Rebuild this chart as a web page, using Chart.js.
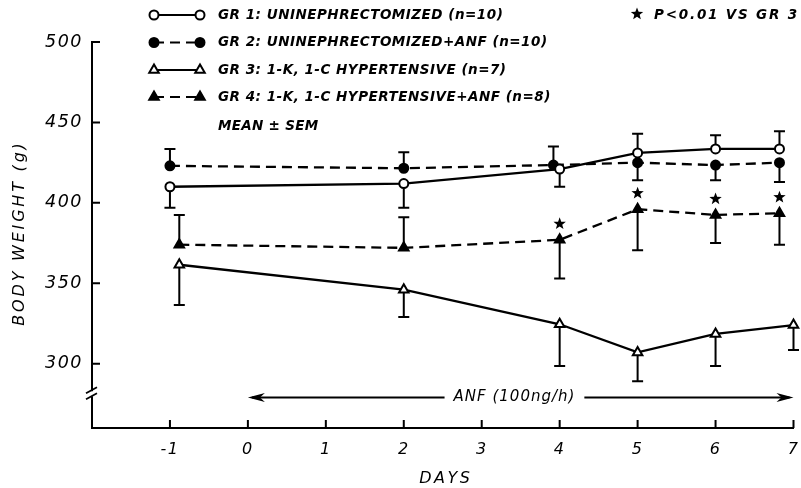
<!DOCTYPE html>
<html><head><meta charset="utf-8">
<script src="https://cdn.jsdelivr.net/npm/chart.js@4.4.0/dist/chart.umd.min.js"></script>
<style>html,body{margin:0;padding:0;background:#fff}#wrap{width:801px;height:488px;position:relative}</style>
</head><body><div id="wrap"><canvas id="c"></canvas></div>
<script>
// ---- data ----
const dayTicks = [-1, 0, 1, 2, 3, 4, 5, 6, 7];
const weightTicks = [300, 350, 400, 450, 500];

const g1Days = [-1, 2, 4, 5, 6, 6.82];
const g1Mean = [410, 412, 421, 431, 433.5, 433.5];
const g1Sem  = [13, 15, 11, 12, 8.5, 11];
const g1Dir  = [-1, -1, -1, 1, 1, 1];

const g2Days = [-1, 2, 3.92, 5, 6, 6.82];
const g2Mean = [423, 421.5, 423.5, 425, 423.5, 425];
const g2Sem  = [10.5, 10, 11.5, 11, 9.5, 12];
const g2Dir  = [1, 1, 1, -1, -1, -1];

const g3Days = [-0.88, 2, 4, 5, 6, 7];
const g3Mean = [361.5, 346, 324.5, 307, 318.5, 324];
const g3Sem  = [25, 17, 26, 18, 20, 15.5];
const g3Dir  = [-1, -1, -1, -1, -1, -1];

const g4Days = [-0.88, 2, 4, 5, 6, 6.82];
const g4Mean = [374, 372, 377, 396, 392.5, 393.5];
const g4Sem  = [18.5, 19, 24, 25.5, 17.5, 19.5];
const g4Dir  = [1, 1, -1, -1, -1, -1];
const g4Significant = [false, false, true, true, true, true];

const groupLabels = [
  'GR 1: UNINEPHRECTOMIZED (n=10)',
  'GR 2: UNINEPHRECTOMIZED+ANF (n=10)',
  'GR 3: 1-K, 1-C HYPERTENSIVE (n=7)',
  'GR 4: 1-K, 1-C HYPERTENSIVE+ANF (n=8)'
];
const statNote = 'MEAN \u00B1 SEM';
const sigNote = 'P<0.01 VS GR 3';
const xTitle = 'DAYS';
const yTitle = 'BODY WEIGHT (g)';
const anfLabel = 'ANF (100ng/h)';
const anfStart = 0, anfEnd = 7, anfLevel = 279, anfTextDay = 3.42;
const breakLevel = 281;

// ---- build datasets ----
const groups = [
  {days:g1Days, mean:g1Mean, sem:g1Sem, dir:g1Dir, style:'circle',   filled:false, dashed:false},
  {days:g2Days, mean:g2Mean, sem:g2Sem, dir:g2Dir, style:'circle',   filled:true,  dashed:true},
  {days:g3Days, mean:g3Mean, sem:g3Sem, dir:g3Dir, style:'triangle', filled:false, dashed:false},
  {days:g4Days, mean:g4Mean, sem:g4Sem, dir:g4Dir, style:'triangle', filled:true,  dashed:true, sig:g4Significant}
];
const datasets = groups.map((g, k) => ({
  label: groupLabels[k],
  data: g.days.map((d, i) => ({x: d, y: g.mean[i]})),
  borderColor: '#000',
  backgroundColor: g.filled ? '#000' : '#fff',
  pointBackgroundColor: g.filled ? '#000' : '#fff',
  pointBorderColor: '#000',
  pointBorderWidth: 2,
  pointRadius: g.style === 'circle' ? 4.5 : 5.5,
  pointStyle: g.style,
  borderWidth: 2.3,
  borderDash: g.dashed ? [10, 6] : [],
  tension: 0, fill: false, clip: false
}));

const FONT = 'DejaVu Sans';

function star(ctx, x, y, R, r) {
  ctx.beginPath();
  for (let i = 0; i < 10; i++) {
    const rad = i % 2 ? r : R;
    const a = -Math.PI / 2 + i * Math.PI / 5;
    const px = x + rad * Math.cos(a), py = y + rad * Math.sin(a);
    i ? ctx.lineTo(px, py) : ctx.moveTo(px, py);
  }
  ctx.closePath(); ctx.fill();
}

const spacing = {
  id: 'spacing',
  beforeDraw(chart) { chart.ctx.letterSpacing = '1.5px'; }
};

const errorBars = {
  id: 'errorBars',
  beforeDatasetsDraw(chart) {
    const ctx = chart.ctx, ys = chart.scales.y;
    ctx.save();
    ctx.strokeStyle = '#000'; ctx.lineWidth = 2;
    groups.forEach((g, k) => {
      const meta = chart.getDatasetMeta(k);
      meta.data.forEach((pt, i) => {
        const yEnd = ys.getPixelForValue(g.mean[i] + g.dir[i] * g.sem[i]);
        ctx.beginPath();
        ctx.moveTo(pt.x, pt.y); ctx.lineTo(pt.x, yEnd);
        ctx.moveTo(pt.x - 5.5, yEnd); ctx.lineTo(pt.x + 5.5, yEnd);
        ctx.stroke();
      });
    });
    ctx.restore();
  },
  afterDatasetsDraw(chart) {
    const ctx = chart.ctx;
    ctx.save(); ctx.fillStyle = '#000';
    groups.forEach((g, k) => {
      if (!g.sig) return;
      const meta = chart.getDatasetMeta(k);
      meta.data.forEach((pt, i) => { if (g.sig[i]) star(ctx, pt.x, pt.y - 16, 6.5, 2.7); });
    });
    ctx.restore();
  }
};

const decorations = {
  id: 'decorations',
  afterDraw(chart) {
    const ctx = chart.ctx, xs = chart.scales.x, ys = chart.scales.y;
    const a = chart.chartArea;
    ctx.save();
    ctx.strokeStyle = '#000'; ctx.fillStyle = '#000'; ctx.lineWidth = 2;
    // inward tick marks
    ctx.beginPath();
    weightTicks.forEach(v => { const y = ys.getPixelForValue(v); ctx.moveTo(a.left, y); ctx.lineTo(a.left + 8, y); });
    dayTicks.forEach(v => { const x = xs.getPixelForValue(v); ctx.moveTo(x, a.bottom); ctx.lineTo(x, a.bottom - 8); });
    ctx.stroke();
    // axis break
    const by = ys.getPixelForValue(breakLevel);
    ctx.fillStyle = '#fff'; ctx.fillRect(a.left - 3, by - 3, 6, 5); ctx.fillStyle = '#000';
    ctx.lineWidth = 1.8;
    ctx.beginPath();
    ctx.moveTo(a.left - 6, by - 1); ctx.lineTo(a.left + 5, by - 7);
    ctx.moveTo(a.left - 6, by + 5); ctx.lineTo(a.left + 5, by - 1);
    ctx.stroke();
    // axis titles
    ctx.font = 'italic 16px "' + FONT + '"';
    ctx.letterSpacing = '2.5px';
    ctx.textAlign = 'center'; ctx.textBaseline = 'middle';
    ctx.fillText(xTitle, (a.left + a.right) / 2 + 3, 479);
    ctx.save();
    ctx.translate(20, (a.top + a.bottom) / 2 - 2);
    ctx.rotate(-Math.PI / 2);
    ctx.letterSpacing = '2.8px';
    ctx.fillText(yTitle, 0, 0);
    ctx.restore();
    // ANF arrow
    const ay = ys.getPixelForValue(anfLevel);
    const x0 = xs.getPixelForValue(anfStart), x1 = xs.getPixelForValue(anfEnd);
    const tx = xs.getPixelForValue(anfTextDay);
    ctx.font = 'italic 15px "' + FONT + '"';
    ctx.letterSpacing = '1px';
    const tw = ctx.measureText(anfLabel).width;
    ctx.textAlign = 'center'; ctx.textBaseline = 'middle';
    ctx.fillText(anfLabel, tx, ay);
    ctx.lineWidth = 2;
    ctx.beginPath();
    ctx.moveTo(x0 + 4, ay); ctx.lineTo(tx - tw / 2 - 9, ay);
    ctx.moveTo(tx + tw / 2 + 9, ay); ctx.lineTo(x1 - 4, ay);
    ctx.stroke();
    ctx.beginPath();
    ctx.moveTo(x0, ay); ctx.lineTo(x0 + 17, ay - 4.5); ctx.lineTo(x0 + 12, ay); ctx.lineTo(x0 + 17, ay + 4.5); ctx.closePath();
    ctx.moveTo(x1, ay); ctx.lineTo(x1 - 17, ay - 4.5); ctx.lineTo(x1 - 12, ay); ctx.lineTo(x1 - 17, ay + 4.5); ctx.closePath();
    ctx.fill();
    // legend
    const rows = [15, 42.5, 70, 97];
    ctx.font = 'italic bold 13.5px "' + FONT + '"';
    ctx.textAlign = 'left'; ctx.textBaseline = 'middle';
    ctx.letterSpacing = '0.5px';
    datasets.forEach((ds, k) => {
      const y = rows[k];
      ctx.save();
      ctx.lineWidth = 2.2; ctx.setLineDash(ds.borderDash);
      ctx.beginPath(); ctx.moveTo(154, y); ctx.lineTo(200, y); ctx.stroke();
      ctx.restore();
      ctx.save();
      ctx.lineWidth = 2; ctx.fillStyle = ds.pointBackgroundColor; ctx.strokeStyle = '#000';
      [154, 200].forEach(px => Chart.helpers.drawPoint(ctx, {pointStyle: ds.pointStyle, radius: ds.pointRadius, borderWidth: 2, rotation: 0}, px, y));
      ctx.restore();
      ctx.fillStyle = '#000';
      ctx.fillText(ds.label, 218, y);
    });
    ctx.letterSpacing = '0.3px';
    ctx.fillText(statNote, 218, 126);
    ctx.letterSpacing = '1.8px';
    star(ctx, 637, 14, 6.5, 2.8);
    ctx.fillText(sigNote, 654, 15);
    ctx.restore();
  }
};

new Chart(document.getElementById('c'), {
  type: 'line',
  data: {datasets},
  options: {
    responsive: true, maintainAspectRatio: false, animation: false,
    layout: {padding: {left: 0, right: 5, top: 42, bottom: 0}},
    plugins: {legend: {display: false}, tooltip: {enabled: false}},
    scales: {
      x: {
        type: 'linear', min: -2, max: 7,
        afterBuildTicks: s => { s.ticks = dayTicks.map(v => ({value: v})); },
        afterFit: s => { s.height = 60; s.paddingLeft = 0; s.paddingRight = 0; },
        grid: {display: false, drawTicks: false},
        border: {display: true, color: '#000', width: 2},
        ticks: {color: '#000', padding: 12, font: {family: FONT, size: 16, style: 'italic'}, callback: v => String(v)},
        title: {display: false}
      },
      y: {
        type: 'linear', min: 260, max: 500,
        afterBuildTicks: s => { s.ticks = weightTicks.map(v => ({value: v})); },
        afterFit: s => { s.width = 92; s.paddingTop = 0; s.paddingBottom = 0; },
        grid: {display: false, drawTicks: false},
        border: {display: true, color: '#000', width: 2},
        ticks: {color: '#000', padding: 9, font: {family: FONT, size: 17.5, style: 'italic'}, callback: v => String(v)},
        title: {display: false}
      }
    }
  },
  plugins: [spacing, errorBars, decorations]
});
</script></body></html>
